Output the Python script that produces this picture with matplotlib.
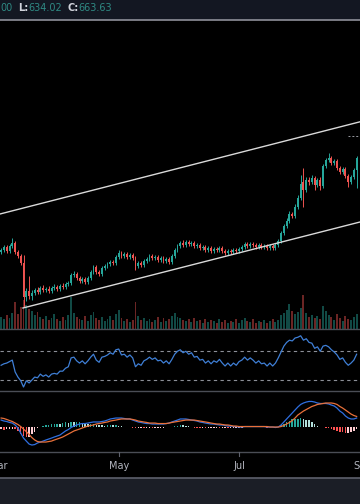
import matplotlib
matplotlib.use('Agg')
import matplotlib.pyplot as plt
from matplotlib.lines import Line2D
from matplotlib.transforms import blended_transform_factory
import numpy as np

# ---------------- data ----------------
opens = [570,572,575,571,576,579,570,566,559,525,531,526,529,532,530,534,532,533,531,534,
         535,533,536,535,538,539,547,548,544,541,543,540,544,550,555,550,548,554,556,558,
         560,559,565,569,566,568,565,567,564,556,559,557,561,563,566,564,565,562,564,561,
         563,560,566,572,576,579,577,580,578,579,576,577,574,575,572,574,571,573,572,574,
         571,569,571,570,572,571,573,575,578,576,578,577,575,577,575,576,574,576,574,577,
         581,589,596,601,608,606,615,624,640,632,642,640,644,637,642,636,656,662,664,659,
         661,654,650,653,646,640,645,652]
closes = [572,575,571,576,579,570,566,559,525,531,526,529,532,530,534,532,533,531,534,535,
          533,536,535,538,539,547,548,544,541,543,540,544,550,555,550,548,554,556,558,560,
          559,565,569,566,568,565,567,564,556,559,557,561,563,566,564,565,562,564,561,563,
          560,566,572,576,579,577,580,578,579,576,577,574,575,572,574,571,573,572,574,571,
          569,571,570,572,571,573,575,578,576,578,577,575,577,575,576,574,576,574,577,581,
          589,596,601,608,606,615,624,638,632,642,640,644,637,642,636,656,662,664,659,661,
          654,650,653,646,640,645,652,663.63]
highs = [574,577,577,578,584,581,572,568,567,534,546,532,534,535,536,537,535,536,536,538,
         537,538,539,540,541,549,551,550,546,545,545,546,552,557,557,552,556,558,560,562,
         562,567,572,571,570,570,569,569,566,561,561,563,565,568,568,567,567,566,566,565,
         565,568,574,578,581,582,582,582,581,581,579,579,577,577,576,576,575,575,576,576,
         573,573,573,574,574,575,577,580,580,580,580,579,579,579,578,578,578,578,579,583,
         591,598,604,611,610,618,627,647,654,645,645,647,646,644,645,658,664,669,666,663,
         663,656,655,655,648,647,654,666]
lows = [568,570,569,569,574,568,564,557,515,521,523,522,527,528,528,530,530,529,529,532,
        531,531,533,533,536,537,545,542,539,539,538,538,542,548,548,546,546,552,554,556,
        557,557,563,564,564,563,563,562,552,554,555,555,559,561,562,562,560,560,559,559,
        558,558,564,570,574,575,575,576,576,574,574,572,572,570,570,569,569,570,570,569,
        567,567,568,568,569,569,571,573,574,574,575,573,573,573,573,572,572,572,572,575,
        579,587,594,599,604,604,613,622,615,630,637,638,632,635,632,634,654,660,657,657,
        652,648,648,644,635,638,643,634.02]
volumes = [12,10,14,11,16,27,15,22,29,24,20,18,14,17,12,10,13,9,11,15,
           10,8,12,9,14,32,16,12,10,9,13,8,14,17,11,9,12,8,10,13,
           9,15,19,11,8,10,7,9,27,13,9,11,8,10,7,9,12,7,11,8,
           10,13,16,12,11,9,8,10,7,11,8,9,6,10,7,9,8,6,10,7,
           9,6,8,7,10,6,9,11,8,7,10,6,8,7,9,6,8,10,7,9,
           14,16,19,25,18,15,17,21,34,16,12,14,11,13,10,23,18,14,12,9,
           15,11,8,13,10,9,12,15]
rsi = [50,52,53,55,57,41,34,29,20.5,29,26,30,34,33,38,35,37,34,38,39,
       38,42,42,46,48,60,61,56,53,56,52,56,61,65,57,54,61,62,64,67,
       65,71,72,64,65,61,64,60,48,52,50,56,58,61,58,60,56,57,53,56,
       52,58,65,69,71,67,69,65,67,61,62,57,58,53,56,52,56,54,58,53,
       49,53,49,53,50,55,57,61,57,60,57,53,56,52,53,49,53,49,53,60,
       68,76,81,84,83,87,88,90,84,86,81,80,73,75,69,76,77,75,71,68,
       64,58,60,54,50,53,57,65]
macd = [5.8,5.0,4.6,3.8,3.3,1.7,-0.8,-5,-9.2,-11.7,-14.2,-15,-14.6,-13.3,-12.5,-11.7,-10.8,-10,-9.2,-8.3,
        -7.5,-6.7,-5,-3.3,-2.1,-0.4,0.8,1.7,2.5,2.9,2.9,3.3,3.8,4.2,4.2,4.2,4.6,5,5.8,6.7,
        7.1,7.5,7.5,7.5,7.1,6.7,6.7,5.8,5,4.2,3.8,3.3,2.9,2.9,2.5,2.5,2.5,2.5,2.5,2.9,
        3.3,4.2,5,5.8,6.7,6.7,6.7,6.3,5.8,5.4,5,4.2,3.8,3.3,2.9,2.5,2.5,2.1,1.7,1.7,
        1.3,0.8,0.8,0.4,0.4,0,0,0.4,0.4,0.4,0.4,0.4,0.4,0.4,0.4,0,0,0,-0.4,0,
        1.7,4.2,6.7,9.2,11.7,14.2,16.7,18.8,20,20.8,21.3,21.3,20.8,20,19.6,19.6,19.6,19.2,18.3,17.5,
        15.8,13.3,11.7,9.2,7.5,6.7,6.7,7.5]
signal = [7.5,7.1,6.3,5.4,4.6,3.3,2.1,0.4,-1.7,-3.8,-6.3,-8.8,-10.8,-12.1,-12.5,-12.5,-12.5,-12.1,-11.7,-10.8,
          -10,-9.2,-8.3,-7.1,-5.8,-4.6,-3.3,-2.5,-1.7,-0.8,0,0.8,1.3,1.7,2.5,2.9,3.3,3.8,4.2,5,
          5.4,5.8,6.3,6.7,6.7,6.7,6.7,6.3,5.8,5,4.6,4.2,3.8,3.3,3.3,3.3,2.9,2.9,2.9,2.9,
          3.3,3.8,4.2,4.6,5,5.4,5.8,5.8,5.8,5.8,5.4,5,4.6,4.2,3.8,3.3,2.9,2.5,2.5,2.1,
          1.7,1.7,1.3,0.8,0.8,0.4,0.4,0.4,0.4,0.4,0.4,0.4,0.4,0.4,0.4,0.4,0,0,0,0,
          0.4,1.3,2.5,3.8,5.4,7.5,10,11.7,13.3,14.6,15.8,17.1,17.9,18.8,19.2,19.6,20,20,20,19.6,
          18.8,17.1,15.8,14.2,12.5,10.8,9.6,8.8]
upper_channel_x = [-0.4, 128.2]
upper_channel_y = [608, 700.2]
lower_channel_x = [7.8, 128.2]
lower_channel_y = [514, 600]
high_marker = 686
month_labels = ['Mar', 'May', 'Jul', 'Sep']
month_pos = [-1.1, 42.1, 85, 129.2]
header_parts = [('00', '#2f8a84'), ('L:', '#d1d4dc'), ('634.02', '#2f8a84'),
                ('C:', '#d1d4dc'), ('663.63', '#2f8a84')]

# ---------------- layout ----------------
W, H = 360, 504
fig = plt.figure(figsize=(3.6, 5.04), dpi=100)
fig.patch.set_facecolor('#000000')

def rect(top, bottom):
    return [0, 1 - bottom / H, 1, (bottom - top) / H]

def clean(ax, fc='#000000'):
    ax.set_facecolor(fc)
    for s in ax.spines.values():
        s.set_visible(False)
    ax.set_xticks([]); ax.set_yticks([])

N = len(closes)
idx = np.arange(N)
XL = (-0.4, 128.2)
UP, DN = '#26a69a', '#ef5350'

ax_head = fig.add_axes(rect(0, 20)); clean(ax_head, '#131722')
ax_foot = fig.add_axes(rect(478, 504)); clean(ax_foot, '#1b1e26')

# price + volume
axv = fig.add_axes(rect(21, 329)); clean(axv)
ax = fig.add_axes(rect(21, 329)); clean(ax); ax.patch.set_visible(False)
o = np.array(opens, float); c = np.array(closes, float)
h = np.array(highs, float); l = np.array(lows, float)
cols = [UP if cc >= oo else DN for oo, cc in zip(o, c)]
axv.bar(idx, volumes, width=0.7, color=cols, alpha=0.45, linewidth=0)
axv.set_ylim(0, 308); axv.set_xlim(*XL)
ax.vlines(idx, l, h, colors=cols, linewidth=0.7)
body = np.where(np.abs(c - o) < 0.6, 0.6, c - o)
ax.bar(idx, body, bottom=o, width=0.7, color=cols, linewidth=0)
ax.plot(upper_channel_x, upper_channel_y, color='#d9d9d9', lw=1.0)
ax.plot(lower_channel_x, lower_channel_y, color='#d9d9d9', lw=1.0)
ax.plot([124, 128.2], [high_marker, high_marker], color='#9a9ca3', lw=0.7, dashes=(2, 2))
ax.set_xlim(*XL); ax.set_ylim(493, 801)

# RSI
ax_r = fig.add_axes(rect(329, 391)); clean(ax_r)
ax_r.axhline(70, color='#8c8f97', lw=0.8, dashes=(3, 3))
ax_r.axhline(30, color='#8c8f97', lw=0.8, dashes=(3, 3))
ax_r.plot(idx, rsi, color='#3f7fd6', lw=0.9)
ax_r.set_xlim(*XL); ax_r.set_ylim(15.1, 99.2)

# MACD
ax_m = fig.add_axes(rect(391, 452)); clean(ax_m)
mv = np.array(macd); sv = np.array(signal)
hist = mv - sv
hcols = []
for i, v in enumerate(hist):
    prev = hist[i - 1] if i > 0 else v
    if v >= 0:
        hcols.append('#26a69a' if v >= prev else '#b2dfdb')
    else:
        hcols.append('#ff5252' if v < prev else '#ffcdd2')
ax_m.bar(idx, hist, width=0.55, color=hcols, linewidth=0)
ax_m.plot(idx, mv, color='#2f6fe0', lw=0.9)
ax_m.plot(idx, sv, color='#e8703a', lw=0.9)
ax_m.set_xlim(*XL); ax_m.set_ylim(-20.8, 30)

# separators
def hline(y, color, lw):
    fig.add_artist(Line2D([0, 1], [1 - y / H] * 2, color=color, lw=lw, transform=fig.transFigure))
hline(20, '#8e9099', 1.2)
hline(329, '#4a4d55', 1.0)
hline(391, '#4a4d55', 1.0)
hline(452, '#4a4d55', 1.0)
hline(478, '#5d606b', 1.2)

# month labels + ticks
tr = blended_transform_factory(ax_m.transData, fig.transFigure)
for lab, p in zip(month_labels, month_pos):
    fig.text(p, 1 - 466 / H, lab, transform=tr, ha='center', va='center',
             color='#b2b5be', fontsize=7)
    fig.add_artist(Line2D([p, p], [1 - 452 / H, 1 - 455.5 / H], transform=tr,
                          color='#5d606b', lw=0.8))

# header text
xpos = [0, 18, 28, 67, 78]
for (t, col), xp in zip(header_parts, xpos):
    fig.text(xp / W, 1 - 8 / H, t, color=col, fontsize=7, ha='left', va='center',
             fontweight='bold' if col == '#d1d4dc' else 'normal')

fig.savefig('out.png', dpi=100, facecolor=fig.get_facecolor())
